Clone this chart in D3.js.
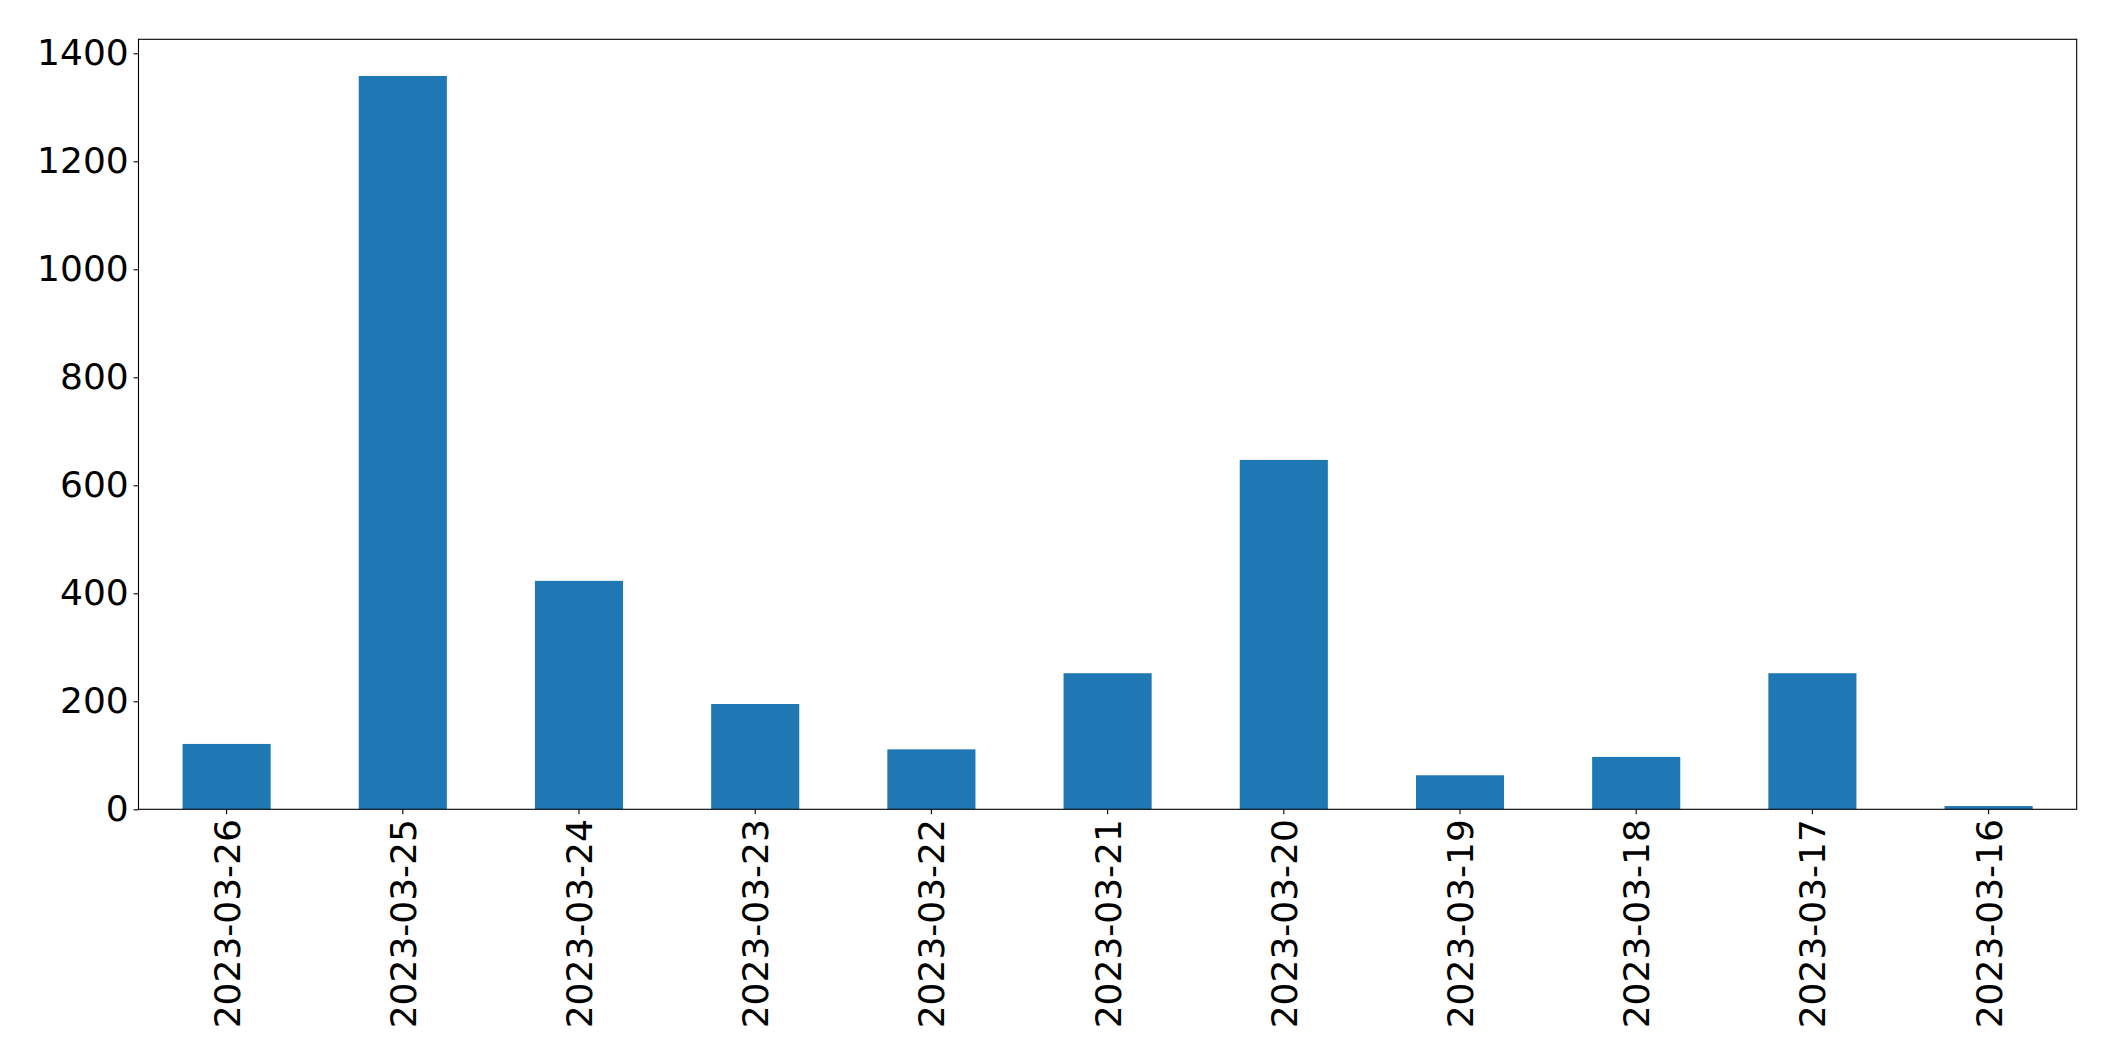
<!DOCTYPE html>
<html>
<head>
<meta charset="utf-8">
<script src="https://cdn.jsdelivr.net/npm/d3@7"></script>
<style>
  html, body { margin: 0; padding: 0; background: #fff; }
  svg { display: block; }
</style>
</head>
<body>
<svg id="chart" width="2115" height="1061"></svg>
<script>
const categories = ["2023-03-26","2023-03-25","2023-03-24","2023-03-23","2023-03-22","2023-03-21","2023-03-20","2023-03-19","2023-03-18","2023-03-17","2023-03-16"];
const values = [121, 1358, 423, 195, 111, 252, 647, 63, 97, 252, 6];
const yTicks = [0, 200, 400, 600, 800, 1000, 1200, 1400];

const W = 2115, H = 1061;
const m = { left: 138.5, top: 39.3, right: W - 2076.7, bottom: H - 809.3 };
const iw = W - m.left - m.right, ih = H - m.top - m.bottom;
const svg = d3.select("#chart");
const g = svg.append("g").attr("transform", `translate(${m.left},${m.top})`);

const x = d3.scaleBand().domain(categories).range([0, iw]).paddingInner(0.5).paddingOuter(0.25);
const y = d3.scaleLinear().domain([0, d3.max(values) * 1.05]).range([ih, 0]);

g.selectAll("rect.bar").data(values).enter().append("rect")
  .attr("class", "bar")
  .attr("x", (d, i) => x(categories[i]))
  .attr("width", x.bandwidth())
  .attr("y", d => y(d))
  .attr("height", d => y(0) - y(d))
  .attr("fill", "#1f77b4");

const font = "DejaVu Sans";
const yAxis = g.append("g").call(d3.axisLeft(y).tickValues(yTicks).tickSize(4.9).tickPadding(4.9).tickFormat(d3.format("d")));
yAxis.select(".domain").remove();
yAxis.selectAll("line").attr("stroke", "#000").attr("stroke-width", 1.1);
yAxis.selectAll("text").attr("font-family", font).attr("font-size", 36).attr("fill", "#000");

const xAxis = g.append("g").attr("transform", `translate(0,${ih})`)
  .call(d3.axisBottom(x).tickSize(4.9).tickPadding(0));
xAxis.select(".domain").remove();
xAxis.selectAll("line").attr("stroke", "#000").attr("stroke-width", 1.1);
xAxis.selectAll("text")
  .attr("font-family", font).attr("font-size", 36).attr("fill", "#000")
  .attr("text-anchor", "end")
  .attr("transform", "translate(0,9.8) rotate(-90)")
  .attr("x", 0).attr("y", 0).attr("dy", "0.36em");

g.append("rect").attr("x", 0).attr("y", 0).attr("width", iw).attr("height", ih)
  .attr("fill", "none").attr("stroke", "#000").attr("stroke-width", 1.1);
</script>
</body>
</html>
